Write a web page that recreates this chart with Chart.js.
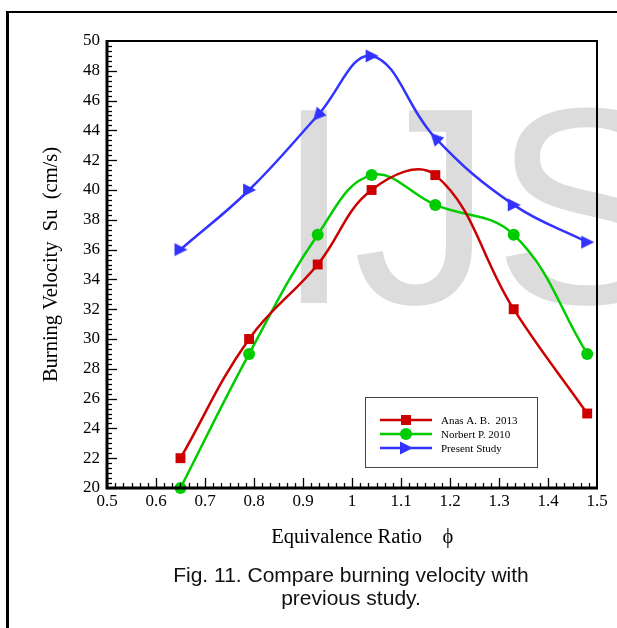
<!DOCTYPE html>
<html>
<head>
<meta charset="utf-8">
<script src="https://cdn.jsdelivr.net/npm/chart.js@4.4.1/dist/chart.umd.min.js"></script>
<style>
  html, body { margin: 0; padding: 0; background: #fff; overflow: hidden; }
  .frame { position: absolute; left: 6px; top: 11px; width: 700px; height: 700px;
           border-top: 2px solid #000; border-left: 3px solid #000; }
  .wrap { position: absolute; left: 0; top: 0; width: 617px; height: 628px; }
  .caption { position: absolute; left: 151px; width: 400px; top: 563px; text-align: center;
             font-family: 'Liberation Sans', Arial, sans-serif; font-size: 21px; line-height: 23px; color: #111; }
</style>
</head>
<body>
<div class="frame"></div>
<div class="wrap"><canvas id="burnChart"></canvas></div>
<div class="caption">Fig. 11. Compare burning velocity with<br>previous study.</div>
<script>
// data
const phi = [0.65, 0.79, 0.93, 1.04, 1.17, 1.33, 1.48];
const anas2013 = [22, 30, 35, 40, 41, 32, 25];
const norbert2010 = [20, 29, 37, 41, 39, 37, 29];
const presentStudy = [36, 40, 45, 49, 43.5, 39, 36.5];
const seriesNames = ["Anas A. B.  2013", "Norbert P. 2010", "Present Study"];
const xTicks = [0.5, 0.6, 0.7, 0.8, 0.9, 1.0, 1.1, 1.2, 1.3, 1.4, 1.5];
const yTicks = [20, 22, 24, 26, 28, 30, 32, 34, 36, 38, 40, 42, 44, 46, 48, 50];

const serif = "'Liberation Serif', 'Times New Roman', serif";
const sans = "'Liberation Sans', Arial, sans-serif";

function toPoints(ys) {
  return ys.map((y, i) => ({ x: phi[i], y: y }));
}

// arrow head marker (points right, rotated along the curve)
function makeArrow(color) {
  const c = document.createElement("canvas");
  c.width = 16;
  c.height = 16;
  const g = c.getContext("2d");
  g.fillStyle = color;
  g.beginPath();
  g.moveTo(2, 1.5);
  g.lineTo(15, 8);
  g.lineTo(2, 14.5);
  g.closePath();
  g.fill();
  return c;
}
const blueArrow = makeArrow("#3333ff");
// degrees clockwise from pointing right
const arrowTurn = [0, 0, 132, 0, 226, 0, 0];

// big grey IJS mark behind the curves
const watermark = {
  id: "watermark",
  beforeDraw(chart) {
    const ctx = chart.ctx;
    ctx.save();
    ctx.font = "280px " + sans;
    ctx.fillStyle = "#dcdcdc";
    ctx.textBaseline = "alphabetic";
    ctx.fillText("IJS", 275, 303);
    ctx.restore();
  }
};

// box round the plot + inward ticks (5 minor ticks between majors)
const axisBox = {
  id: "axisBox",
  afterDatasetsDraw(chart) {
    const ctx = chart.ctx;
    const a = chart.chartArea;
    const xs = chart.scales.x;
    const ys = chart.scales.y;
    ctx.save();
    ctx.strokeStyle = "#000";
    ctx.lineWidth = 1.3;
    for (let i = 0; i < xTicks.length - 1; i++) {
      for (let k = 0; k < 6; k++) {
        const v = xTicks[i] + (xTicks[i + 1] - xTicks[i]) * k / 6;
        const px = Math.round(xs.getPixelForValue(v)) + 0.5;
        const len = k === 0 ? 10 : 5;
        ctx.beginPath();
        ctx.moveTo(px, a.bottom);
        ctx.lineTo(px, a.bottom - len);
        ctx.stroke();
      }
    }
    for (let i = 0; i < yTicks.length - 1; i++) {
      for (let k = 0; k < 6; k++) {
        const v = yTicks[i] + (yTicks[i + 1] - yTicks[i]) * k / 6;
        const py = Math.round(ys.getPixelForValue(v)) + 0.5;
        const len = k === 0 ? 10 : 5;
        ctx.beginPath();
        ctx.moveTo(a.left, py);
        ctx.lineTo(a.left + len, py);
        ctx.stroke();
      }
    }
    // top and right thinner
    ctx.lineWidth = 2;
    ctx.beginPath();
    ctx.moveTo(a.left, a.top);
    ctx.lineTo(a.right, a.top);
    ctx.lineTo(a.right, a.bottom);
    ctx.stroke();
    ctx.lineWidth = 3;
    ctx.beginPath();
    ctx.moveTo(a.left, a.top - 1);
    ctx.lineTo(a.left, a.bottom);
    ctx.lineTo(a.right + 1, a.bottom);
    ctx.stroke();
    ctx.restore();
  }
};

function drawMarker(ctx, style, x, y, color) {
  if (style instanceof HTMLCanvasElement) {
    ctx.drawImage(style, x - style.width / 2, y - style.height / 2);
    return;
  }
  ctx.fillStyle = color;
  ctx.beginPath();
  if (style === "rect") {
    ctx.rect(x - 5, y - 5, 10, 10);
  } else {
    ctx.arc(x, y, 6, 0, Math.PI * 2);
  }
  ctx.fill();
}

// legend box inside the plot, lower right
const boxLegend = {
  id: "boxLegend",
  afterDraw(chart) {
    const ctx = chart.ctx;
    ctx.save();
    ctx.fillStyle = "#fff";
    ctx.fillRect(365, 397, 172, 70);
    ctx.strokeStyle = "#444";
    ctx.lineWidth = 1;
    ctx.strokeRect(365.5, 397.5, 172, 70);
    ctx.font = "11px " + serif;
    ctx.textBaseline = "middle";
    chart.data.datasets.forEach((ds, i) => {
      const y = 420 + i * 14;
      ctx.strokeStyle = ds.borderColor;
      ctx.lineWidth = 2.5;
      ctx.beginPath();
      ctx.moveTo(380, y);
      ctx.lineTo(432, y);
      ctx.stroke();
      drawMarker(ctx, ds.pointStyle, 406, y, ds.pointBackgroundColor);
      ctx.fillStyle = "#000";
      ctx.fillText(ds.label, 441, y + 1);
    });
    ctx.restore();
  }
};

const ctx = document.getElementById("burnChart").getContext("2d");
const burnChart = new Chart(ctx, {
  type: "line",
  data: {
    datasets: [
      {
        label: seriesNames[0],
        data: toPoints(anas2013),
        borderColor: "#cc0000",
        pointBackgroundColor: "#cc0000",
        pointBorderColor: "#cc0000",
        pointStyle: "rect",
        pointRadius: 7,
        borderWidth: 2.5,
        pointBorderWidth: 0,
        tension: 0.4
      },
      {
        label: seriesNames[1],
        data: toPoints(norbert2010),
        borderColor: "#00cc00",
        pointBackgroundColor: "#00cc00",
        pointBorderColor: "#00cc00",
        pointStyle: "circle",
        pointRadius: 6,
        borderWidth: 2.5,
        pointBorderWidth: 0,
        tension: 0.4
      },
      {
        label: seriesNames[2],
        data: toPoints(presentStudy),
        borderColor: "#3333ff",
        pointBackgroundColor: "#3333ff",
        pointBorderColor: "#3333ff",
        pointStyle: blueArrow,
        pointRotation: arrowTurn,
        pointRadius: 8,
        borderWidth: 2.5,
        pointBorderWidth: 0,
        tension: 0.4
      }
    ]
  },
  options: {
    responsive: true,
    maintainAspectRatio: false,
    animation: false,
    clip: false,
    layout: { padding: { top: 41, right: 20, left: 0, bottom: 64.5 } },
    plugins: {
      legend: { display: false },
      tooltip: { enabled: false }
    },
    scales: {
      x: {
        type: "linear",
        min: 0.5,
        max: 1.5,
        afterBuildTicks: (s) => { s.ticks = xTicks.map(v => ({ value: v })); },
        afterFit: (s) => { s.height = 75.5; },
        grid: { display: false, drawTicks: false },
        border: { display: false },
        ticks: {
          padding: 3,
          color: "#000",
          font: { family: serif, size: 17 },
          callback: (v) => String(Number(v.toFixed(1)))
        },
        title: {
          display: true,
          text: "    Equivalence Ratio    \u03D5",
          color: "#000",
          font: { family: serif, size: 20.5 },
          padding: { top: 0, bottom: 14 }
        }
      },
      y: {
        min: 20,
        max: 50,
        afterBuildTicks: (s) => { s.ticks = yTicks.map(v => ({ value: v })); },
        afterFit: (s) => { s.width = 107; },
        grid: { display: false, drawTicks: false },
        border: { display: false },
        ticks: {
          padding: 7,
          color: "#000",
          font: { family: serif, size: 17 }
        },
        title: {
          display: true,
          text: "Burning Velocity  Su  (cm/s)",
          color: "#000",
          font: { family: serif, size: 20.5 },
          padding: { top: 39.5, bottom: 0 }
        }
      }
    }
  },
  plugins: [watermark, axisBox, boxLegend]
});
</script>
</body>
</html>
